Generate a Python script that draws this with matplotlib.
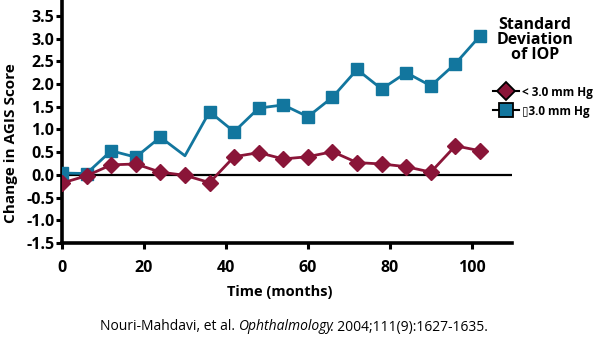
import matplotlib
matplotlib.use("Agg")
import matplotlib.pyplot as plt
from matplotlib.lines import Line2D

plt.rcParams['font.family'] = ['Open Sans', 'DejaVu Sans']

months = [0, 6, 12, 18, 24, 30, 36, 42, 48, 54, 60, 66, 72, 78, 84, 90, 96, 102]
low_sd = [-0.18, -0.02, 0.22, 0.24, 0.06, -0.01, -0.17, 0.40, 0.49, 0.35, 0.40, 0.51,
          0.27, 0.24, 0.18, 0.06, 0.64, 0.53]
high_sd = [0.04, 0.03, 0.53, 0.39, 0.83, 0.42, 1.39, 0.95, 1.47, 1.54, 1.28, 1.71,
           2.32, 1.89, 2.25, 1.96, 2.45, 3.06]
high_marks = [i for i in range(len(months)) if months[i] != 30]  # no marker at 30 months
labels = ["< 3.0 mm Hg", "\u25af3.0 mm Hg"]
yticks = [-1.5, -1.0, -0.5, 0.0, 0.5, 1.0, 1.5, 2.0, 2.5, 3.0, 3.5]
xticks = [0, 20, 40, 60, 80, 100]

red = "#8a1538"
blue = "#12769e"

fig = plt.figure(figsize=(5.94, 3.40), dpi=100)
ax = fig.add_axes([62 / 594, 1 - 243 / 340, 450 / 594, 243 / 340])

ax.axhline(0, color="black", lw=1.6, zorder=1)
ax.plot(months, high_sd, color=blue, lw=2.0, marker="s", markersize=8.5,
        markevery=high_marks, zorder=3)
ax.plot(months, low_sd, color=red, lw=2.0, marker="D", markersize=8, zorder=4)

ax.set_xlim(0, 109.8)
ax.set_ylim(-1.5, 3.85)
ax.set_xticks(xticks)
ax.set_yticks(yticks)
ax.set_yticklabels(["%.1f" % v for v in yticks])
for s in ["top", "right"]:
    ax.spines[s].set_visible(False)
for s in ["left", "bottom"]:
    ax.spines[s].set_linewidth(2.6)
ax.tick_params(width=2.2, length=4, labelsize=11.5)
ax.tick_params(axis="x", pad=8)
ax.tick_params(axis="y", pad=1.5)
for t in ax.get_xticklabels() + ax.get_yticklabels():
    t.set_fontweight("bold")
ax.patch.set_visible(False)

fig.text(11 / 594, 1 - 143 / 340, "Change in AGIS Score", rotation=90,
         ha="center", va="center", fontsize=11, fontweight="bold")
fig.text(280 / 594, 1 - 292 / 340, "Time (months)", ha="center", va="center",
         fontsize=10.5, fontweight="bold")

# legend title and entries
fig.text(535 / 594, 1 - 40 / 340, "Standard\nDeviation\nof IOP", ha="center",
         va="center", fontsize=11.5, fontweight="bold", linespacing=0.95)
handles = [
    Line2D([], [], color="black", lw=1.5, marker="D", markersize=9.5,
           markerfacecolor=red, markeredgecolor="black", markeredgewidth=1.3),
    Line2D([], [], color="black", lw=1.5, marker="s", markersize=9.5,
           markerfacecolor=blue, markeredgecolor="black", markeredgewidth=1.3),
]
fig.legend(handles, labels, loc="upper left", bbox_to_anchor=(482 / 594, 1 - 75 / 340),
           frameon=False, handlelength=2.2, handletextpad=0.25, labelspacing=0.5,
           prop={"size": 8.5, "weight": "bold"})

# citation with the journal name in italics
parts = [("Nouri-Mahdavi, et al. ", "normal"), ("Ophthalmology", "italic"),
         (". 2004;111(9):1627-1635.", "normal")]
fig.canvas.draw()
renderer = fig.canvas.get_renderer()
texts = []
for s, style in parts:
    t = fig.text(0, 1 - 327 / 340, s, fontsize=10, style=style, va="center", ha="left")
    texts.append(t)
widths = [t.get_window_extent(renderer).width for t in texts]
widths[1] -= 3  # italic extent runs past the last glyph
x = 294 - sum(widths) / 2
for t, w in zip(texts, widths):
    t.set_x(x / 594)
    x += w

fig.savefig("out.png", dpi=100)
